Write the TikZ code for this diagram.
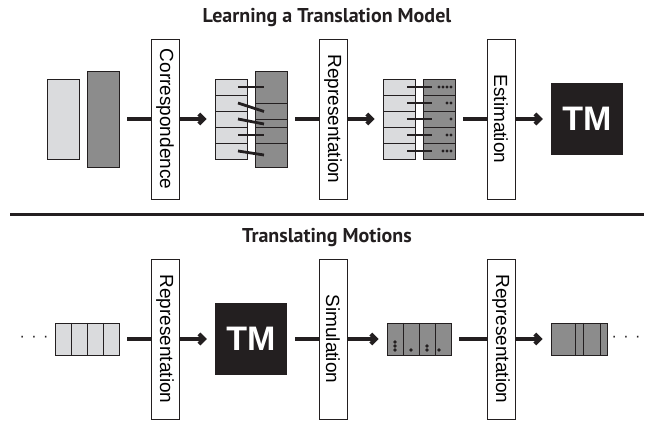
\documentclass[tikz,border=0pt]{standalone}
\usepackage{fontspec}
\setmainfont{Liberation Sans}
\newfontfamily\titlefont{PT Sans}
\usetikzlibrary{arrows.meta}
\definecolor{lgray}{HTML}{DADBDD}
\definecolor{dgray}{HTML}{8C8C8C}
\definecolor{ink}{HTML}{231F20}
\begin{document}
\begin{tikzpicture}[x=1pt,y=-1pt,
  lbox/.style={draw=ink, line width=0.9pt, minimum width=28pt, minimum height=160pt, inner sep=0pt, font=\fontsize{19}{19}\selectfont},
  lblock/.style={fill=lgray, draw=ink, line width=0.8pt, inner sep=0pt, minimum width=32pt},
  dblock/.style={fill=dgray, draw=ink, line width=0.8pt, inner sep=0pt, minimum width=32pt},
  cell/.style={draw=ink, line width=0.8pt},
  conn/.style={draw=ink, line width=4pt, shorten <=8pt},
  arr/.style={draw=ink, line width=4pt, shorten >=8pt, -{Straight Barb[length=5pt,width=10pt]}},
  link/.style={draw=ink, line width=2.8pt},
  tm/.style={fill=ink, text=white, minimum width=72pt, minimum height=72pt, inner sep=0pt, font=\fontsize{34}{34}\selectfont\bfseries},
  ttl/.style={font=\titlefont\bfseries\fontsize{20}{20}\selectfont, text=ink},
  dotstyle/.style={font=\fontsize{16}{16}\selectfont, text=ink, inner sep=0pt}
]
\useasboundingbox[fill=white] (0,0) rectangle (654,422);

% titles
\node[ttl, anchor=base] (t1) at (327,23) {Learning a Translation Model};
\node[ttl, anchor=base] (t2) at (327,243) {Translating Motions};
\draw[ink, line width=3pt] (10,215) -- (644,215);

% ---------- top row ----------
\node[lblock, minimum height=80pt] (s1a) at (63,119) {};
\node[dblock, minimum height=96pt] (s1b) at (103,119) {};

\node[lbox] (c1) at (165,119) {\rotatebox{-90}{Correspondence}};

\node[lblock, minimum height=80pt] (s2a) at (231,119) {};
\node[dblock, minimum height=96pt] (s2b) at (271,119) {};
\foreach \y in {95,111,127,143} \draw[cell] (215,\y) -- (247,\y);
\foreach \y in {103,119,127,143} \draw[cell] (255,\y) -- (287,\y);
\draw[link] (238,87) -- (264,87);
\draw[link] (238,103) -- (264,111.5);
\draw[link] (238,119) -- (264,124);
\draw[link] (238,135) -- (264,135);
\draw[link] (238,151) -- (264,155);

\node[lbox] (c2) at (333,119) {\rotatebox{-90}{Representation}};

\node[lblock, minimum height=80pt] (s3a) at (399,119) {};
\node[dblock, minimum height=80pt] (s3b) at (439,119) {};
\foreach \y in {95,111,127,143} {\draw[cell] (383,\y) -- (415,\y); \draw[cell] (423,\y) -- (455,\y);}
\foreach \y in {87,103,119,135,151} \draw[link] (407,\y) -- (432,\y);
\foreach \x in {439,443,447,451} \fill[ink] (\x,87) circle (1.7pt);
\foreach \x in {447,451} \fill[ink] (\x,103) circle (1.7pt);
\fill[ink] (451,119) circle (1.7pt);
\foreach \x in {447,451} \fill[ink] (\x,135) circle (1.7pt);
\foreach \x in {443,447,451} \fill[ink] (\x,151) circle (1.7pt);

\node[lbox] (c3) at (501,119) {\rotatebox{-90}{Estimation}};
\node[tm] (tm1) at (587,119) {TM};

\draw[conn] (s1b) -- (c1);
\draw[arr] (c1) -- (s2a);
\draw[conn] (s2b) -- (c2);
\draw[arr] (c2) -- (s3a);
\draw[conn] (s3b) -- (c3);
\draw[arr] (c3) -- (tm1);

% ---------- bottom row ----------
\node[dotstyle] (ld) at (34,339) {·\hspace{6.5pt}·\hspace{6.5pt}·};
\node[lblock, minimum width=64pt, minimum height=32pt] (b1) at (87,339) {};
\foreach \x in {71,87,103} \draw[cell] (\x,323) -- (\x,355);

\node[lbox] (d1) at (165,339) {\rotatebox{-90}{Representation}};
\node[tm] (tm2) at (251,339) {TM};
\node[lbox] (d2) at (333,339) {\rotatebox{-90}{Simulation}};

\node[dblock, minimum width=64pt, minimum height=32pt] (b2) at (419,339) {};
\foreach \x in {403,419,435} \draw[cell] (\x,323) -- (\x,355);
\foreach \y in {342,346,350} \fill[ink] (395,\y) circle (1.8pt);
\fill[ink] (411,350) circle (1.8pt);
\foreach \y in {346,350} \fill[ink] (427,\y) circle (1.8pt);
\fill[ink] (439,350) circle (1.8pt);

\node[lbox] (d3) at (501,339) {\rotatebox{-90}{Representation}};
\node[dblock, minimum width=56pt, minimum height=32pt] (b3) at (579,339) {};
\foreach \x in {575,583,600} \draw[cell] (\x,323) -- (\x,355);
\node[dotstyle] (rd) at (626,339) {·\hspace{6.5pt}·\hspace{6.5pt}·};

\draw[conn] (b1) -- (d1);
\draw[arr] (d1) -- (tm2);
\draw[conn] (tm2) -- (d2);
\draw[arr] (d2) -- (b2);
\draw[conn] (b2) -- (d3);
\draw[arr] (d3) -- (b3);
\end{tikzpicture}
\end{document}
